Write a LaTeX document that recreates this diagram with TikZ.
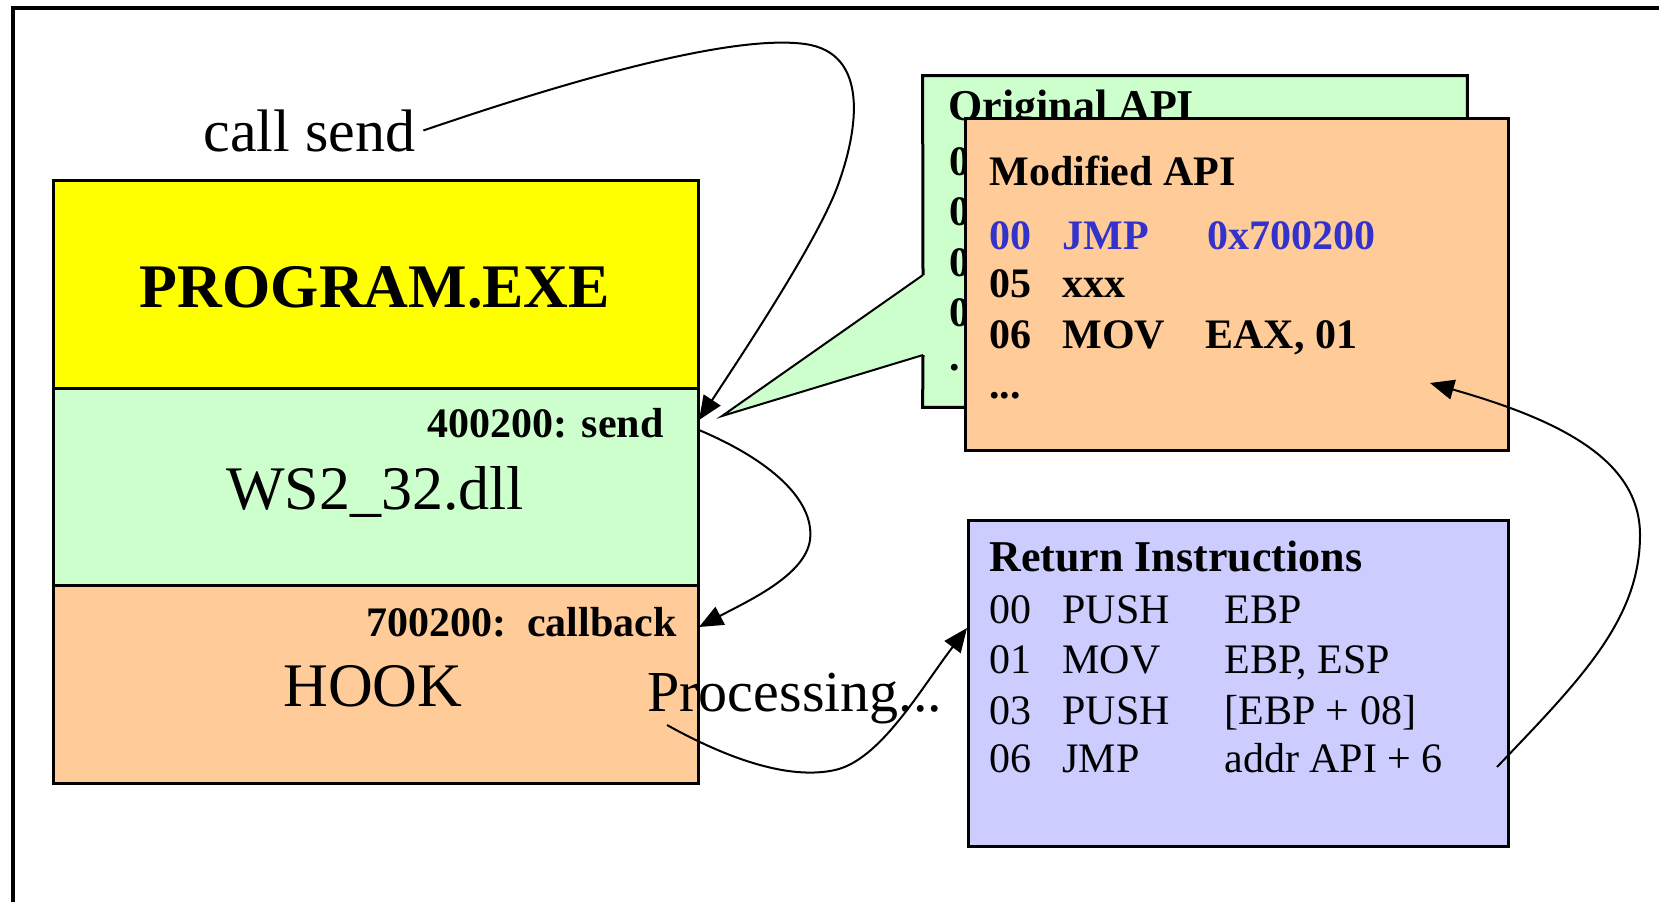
\documentclass[tikz,border=0pt]{standalone}
\usepackage{fontspec}
\setmainfont{Liberation Serif}
\usetikzlibrary{arrows.meta,fit}
\definecolor{progyellow}{HTML}{FFFF00}
\definecolor{dllgreen}{HTML}{CCFFCC}
\definecolor{hookpeach}{HTML}{FFCC99}
\definecolor{retblue}{HTML}{CCCCFF}
\definecolor{jmpblue}{HTML}{3333CC}
\newcommand{\myfs}[1]{\fontsize{#1}{#1}\selectfont}
\begin{document}
\begin{tikzpicture}[x=0.5pt,y=-0.5pt,
  box/.style={draw, line width=1.5pt, inner sep=0pt},
  txt/.style={inner sep=0pt, anchor=base west},
  big/.style={inner sep=0pt, anchor=base, font={\myfs{31}}},
  bcode/.style={txt, font={\myfs{21}\bfseries}},
  rcode/.style={txt, font={\myfs{21}}},
  conn/.style={line width=1pt, -{Triangle[length=12pt,width=10pt]}}]
\useasboundingbox (0,0) rectangle (1659,902);
% outer frame
\draw[line width=2pt] (13,902) -- (13,8) -- (1659,8);

% stacked program boxes
\node[box, fill=progyellow, fit={(53,180) (698,388)}] (prog) {};
\node[box, fill=dllgreen, fit={(53,388) (698,585)}] (ws2) {};
\node[box, fill=hookpeach, fit={(53,585) (698,783)}] (hook) {};

\node[big, font={\myfs{31}\bfseries}] (progt) at (375,307) {PROGRAM.EXE};
\node[inner sep=0pt, anchor=base east, font={\myfs{21}\bfseries}] (sendt) at (664,437) {400200: send};
\node[big] (ws2t) at (375,509) {WS2\_32.dll};
\node[inner sep=0pt, anchor=base east, font={\myfs{21}\bfseries}] (cbt) at (677,636) {700200:\ \ callback};
\node[big] (hookt) at (373,706) {HOOK};
\node[txt, font={\myfs{29}}] (proc) at (647,711) {Processing...};

\node[txt, font={\myfs{30}}] (callsend) at (203,151) {call send};

% original API with callout
\node[inner sep=0pt, fit={(923,76) (1467,407)}] (orig) {};
\coordinate (tip) at (722,416);
\fill[dllgreen] (orig.north west) -- (orig.north east) -- (orig.south east) -- (orig.south west)
  -- (923,355) -- (tip) -- (923,275) -- cycle;
\draw[line width=1.5pt, line join=miter] (923,275) -- (orig.north west) -- (orig.north east)
  -- (orig.south east) -- (orig.south west) -- (923,355);
\draw[line width=1pt] (923,275) -- (tip) -- (923,355);
\node[txt, font={\myfs{22}\bfseries}] (origt) at (948,120) {Original API};
\node[bcode] (o1) at (949,175) {00};
\node[bcode] (o2) at (949,225) {05};
\node[bcode] (o3) at (949,276) {06};
\node[bcode] (o4) at (949,326) {00};
\node[bcode] (o5) at (949,370) {.};

% modified API
\node[box, fill=hookpeach, fit={(965,118) (1508,450)}] (mod) {};
\node[bcode] (modt) at (989,185) {Modified API};
\node[bcode, text=jmpblue] (m1a) at (989,249) {00};
\node[bcode, text=jmpblue] (m1b) at (1062,249) {JMP};
\node[bcode, text=jmpblue] (m1c) at (1207,249) {0x700200};
\node[bcode] (m2a) at (989,297) {05};
\node[bcode] (m2b) at (1062,297) {xxx};
\node[bcode] (m3a) at (989,348) {06};
\node[bcode] (m3b) at (1062,348) {MOV};
\node[bcode] (m3c) at (1205,348) {EAX, 01};
\node[bcode] (m4a) at (989,398) {...};

% return instructions
\node[box, fill=retblue, fit={(968,520) (1508,846)}] (ret) {};
\node[txt, font={\myfs{22}\bfseries}] (rett) at (989,571) {Return Instructions};
\node[rcode] (r1a) at (989,623) {00};
\node[rcode] (r1b) at (1062,623) {PUSH};
\node[rcode] (r1c) at (1224,623) {EBP};
\node[rcode] (r2a) at (989,673) {01};
\node[rcode] (r2b) at (1062,673) {MOV};
\node[rcode] (r2c) at (1224,673) {EBP, ESP};
\node[rcode] (r3a) at (989,724) {03};
\node[rcode] (r3b) at (1062,724) {PUSH};
\node[rcode] (r3c) at (1224,724) {[EBP + 08]};
\node[rcode] (r4a) at (989,772) {06};
\node[rcode] (r4b) at (1062,772) {JMP};
\node[rcode] (r4c) at (1224,772) {addr API + 6};

% connector end points
\coordinate (sendpt) at (699,420);
\coordinate (ws2out) at (699,430);
\coordinate (cbin) at (699,627);
\coordinate (procout) at (667,725);
\coordinate (retin) at (967,628);
\coordinate (jmpout) at (1497,767);
\coordinate (modin) at (1430,383);

% connectors
\draw[conn] ([xshift=4pt]callsend.east) .. controls (600,70) and (740,35) .. (805,44)
  .. controls (870,53) and (858,130) .. (838,185)
  .. controls (818,240) and (745,350) .. (sendpt);
\draw[conn] (ws2out) .. controls (770,460) and (815,500) .. (810,540)
  .. controls (805,575) and (750,600) .. (cbin);
\draw[conn] (procout) .. controls (730,760) and (790,780) .. (835,770)
  .. controls (880,760) and (920,690) .. (retin);
\draw[conn] (jmpout) .. controls (1580,680) and (1640,620) .. (1640,535)
  .. controls (1640,460) and (1560,420) .. (modin);
\end{tikzpicture}
\end{document}
